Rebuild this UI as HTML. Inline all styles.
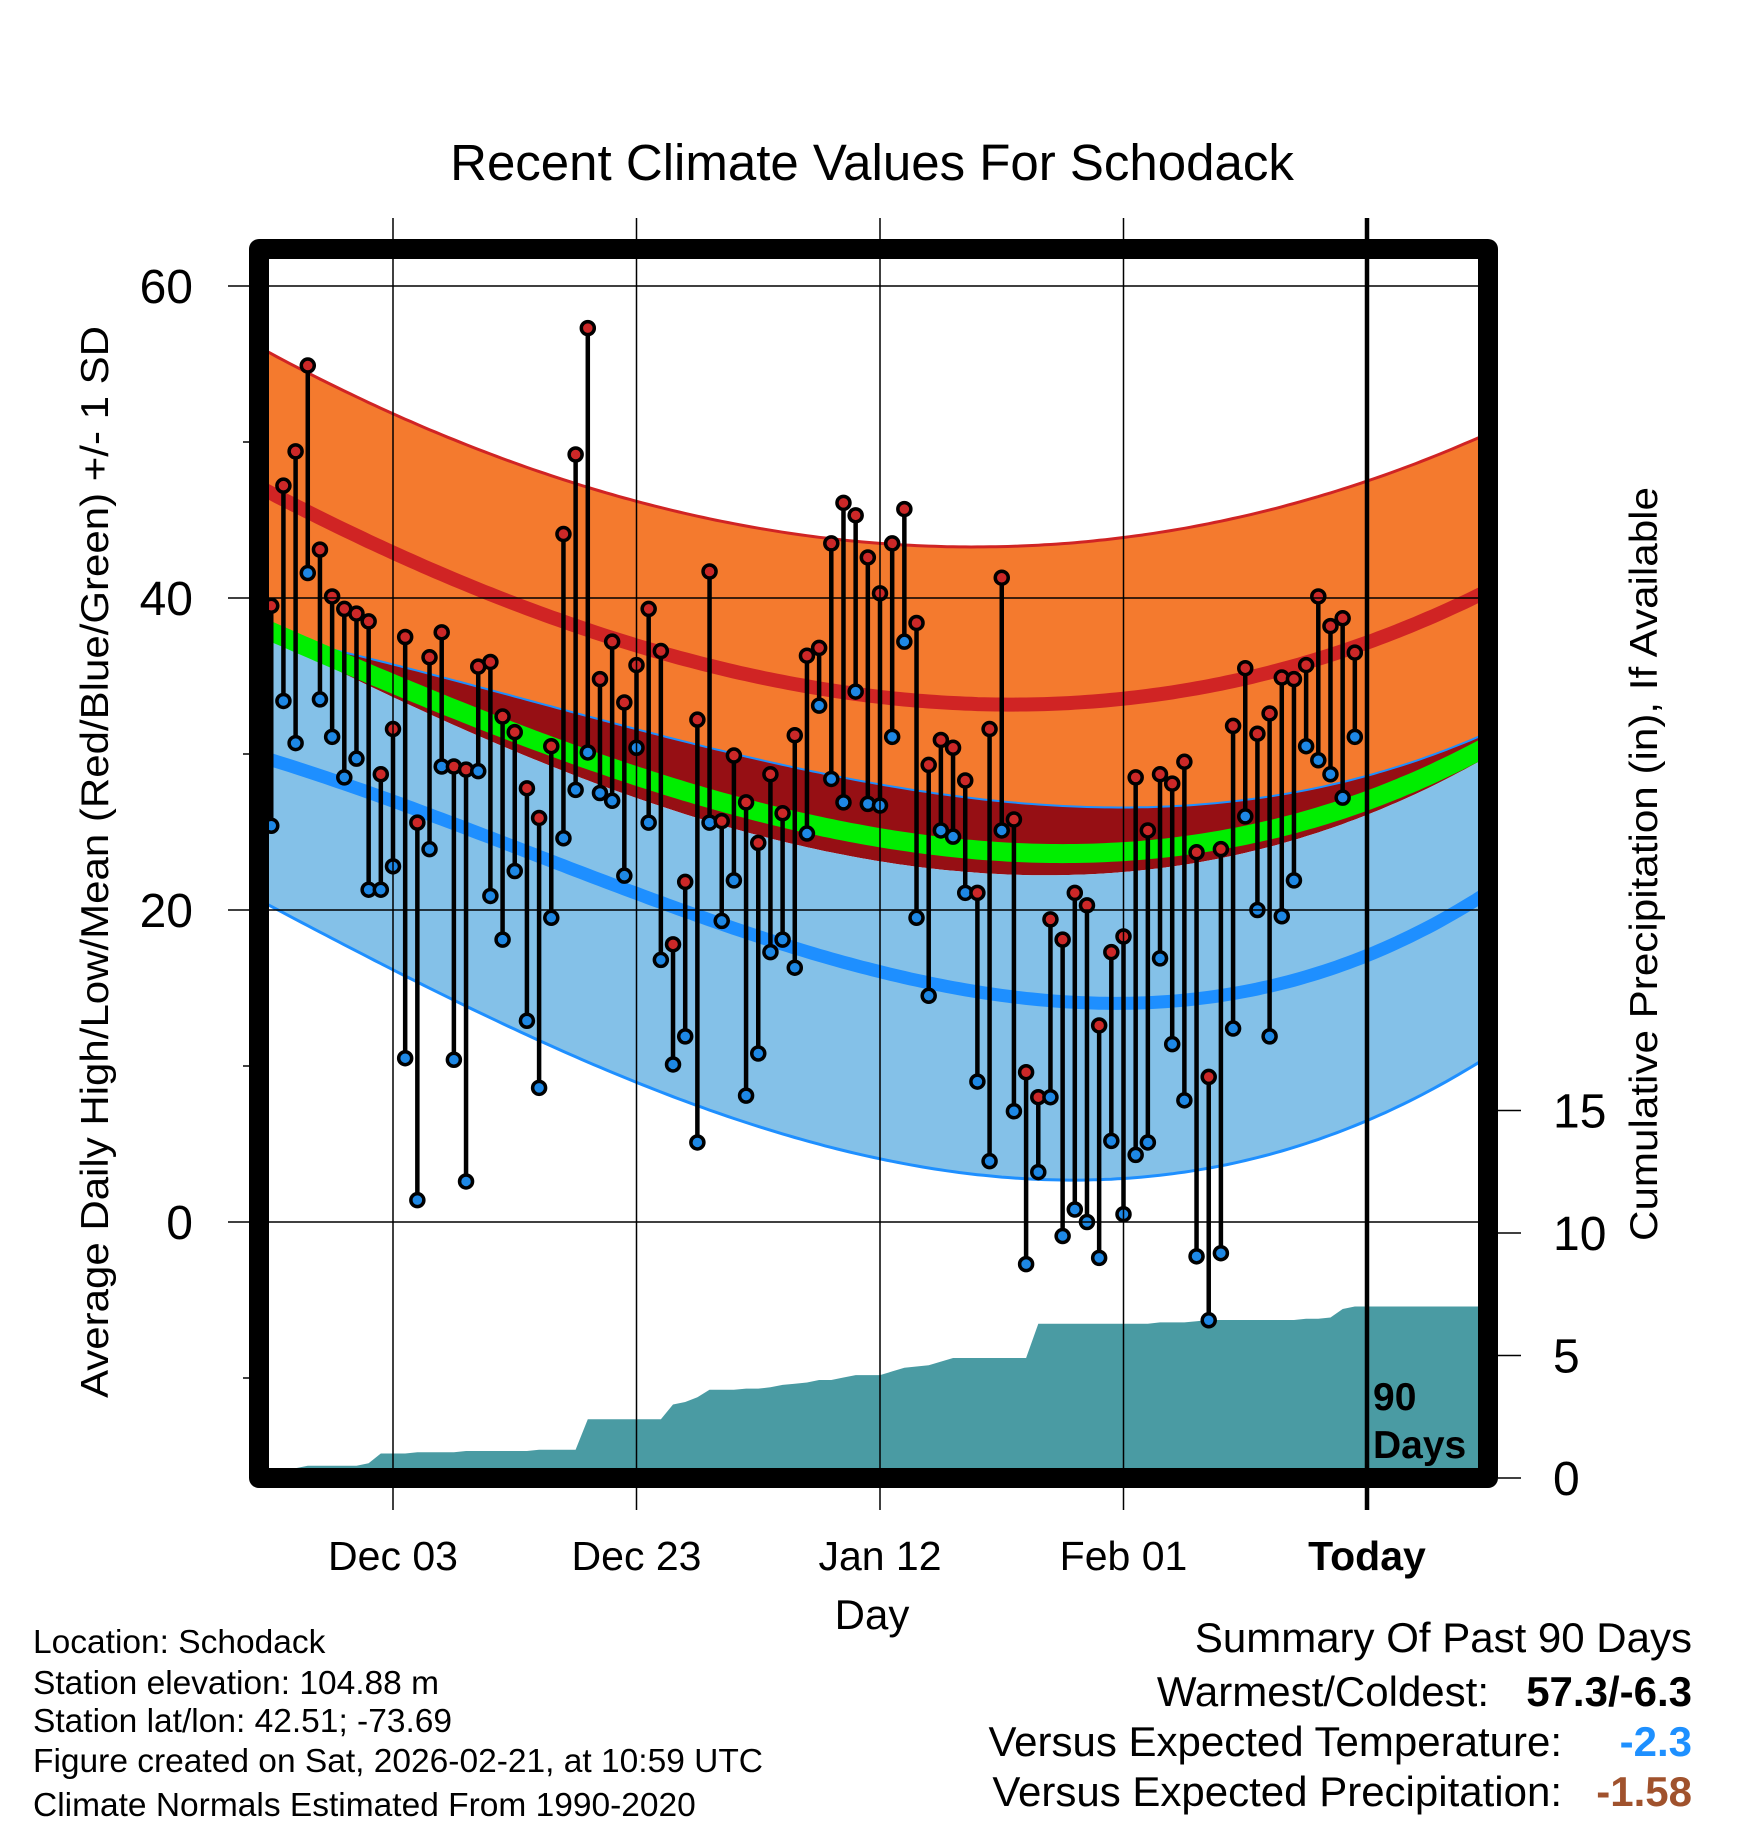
<!DOCTYPE html>
<html><head><meta charset="utf-8"><style>
html,body{margin:0;padding:0;background:#fff;}
svg{display:block;font-family:"Liberation Sans",Arial,sans-serif;}
</style></head><body>
<svg id="chart" width="1748" height="1828" viewBox="0 0 1748 1828" xmlns="http://www.w3.org/2000/svg">
<defs><clipPath id="plotclip"><rect x="269" y="259" width="1209" height="1209"/></clipPath></defs>
<text x="872" y="180" font-size="51" text-anchor="middle">Recent Climate Values For Schodack</text>
<g id="plot" clip-path="url(#plotclip)"></g>
<g id="over"></g>
<rect x="259" y="249" width="1229" height="1229" fill="none" stroke="#000" stroke-width="20" stroke-linejoin="round"/>
<g id="axes"></g>
<text transform="translate(108,862) rotate(-90)" font-size="39" text-anchor="middle" textLength="1072" lengthAdjust="spacingAndGlyphs">Average Daily High/Low/Mean (Red/Blue/Green) +/- 1 SD</text>
<text transform="translate(1657,864) rotate(-90)" font-size="39" text-anchor="middle" textLength="754" lengthAdjust="spacingAndGlyphs">Cumulative Precipitation (in), If Available</text>
<text x="872" y="1629" font-size="42" text-anchor="middle">Day</text>
<text x="1373" y="1410" font-size="39" font-weight="bold">90</text>
<text x="1373" y="1458" font-size="39" font-weight="bold">Days</text>
<g font-size="33.5">
<text x="33" y="1653">Location: Schodack</text>
<text x="33" y="1694">Station elevation: 104.88 m</text>
<text x="33" y="1732">Station lat/lon: 42.51; -73.69</text>
<text x="33" y="1772">Figure created on Sat, 2026-02-21, at 10:59 UTC</text>
<text x="33" y="1816">Climate Normals Estimated From 1990-2020</text>
</g>
<g font-size="42" text-anchor="end">
<text x="1692" y="1652">Summary Of Past 90 Days</text>
<text x="1489" y="1706">Warmest/Coldest:</text>
<text x="1692" y="1706" font-weight="bold">57.3/-6.3</text>
<text x="1562" y="1756">Versus Expected Temperature:</text>
<text x="1692" y="1756" font-weight="bold" fill="#1e90ff">-2.3</text>
<text x="1562" y="1806">Versus Expected Precipitation:</text>
<text x="1692" y="1806" font-weight="bold" fill="#a0522d">-1.58</text>
</g>
</svg>
<script>
// day offsets from Dec 03 (day 0)
const dayStart = -10;
const highs = [39.5,47.2,49.4,54.9,43.1,40.1,39.3,39.0,38.5,28.7,31.6,37.5,25.6,36.2,37.8,29.2,29.0,35.6,35.9,32.4,31.4,27.8,25.9,30.5,44.1,49.2,57.3,34.8,37.2,33.3,35.7,39.3,36.6,17.8,21.8,32.2,41.7,25.7,29.9,26.9,24.3,28.7,26.2,31.2,36.3,36.8,43.5,46.1,45.3,42.6,40.3,43.5,45.7,38.4,29.3,30.9,30.4,28.3,21.1,31.6,41.3,25.8,9.6,8.0,19.4,18.1,21.1,20.3,12.6,17.3,18.3,28.5,25.1,28.7,28.1,29.5,23.7,9.3,23.9,31.8,35.5,31.3,32.6,34.9,34.8,35.7,40.1,38.2,38.7,36.5];
const lows = [25.4,33.4,30.7,41.6,33.5,31.1,28.5,29.7,21.3,21.3,22.8,10.5,1.4,23.9,29.2,10.4,2.6,28.9,20.9,18.1,22.5,12.9,8.6,19.5,24.6,27.7,30.1,27.5,27.0,22.2,30.4,25.6,16.8,10.1,11.9,5.1,25.6,19.3,21.9,8.1,10.8,17.3,18.1,16.3,24.9,33.1,28.4,26.9,34.0,26.8,26.7,31.1,37.2,19.5,14.5,25.1,24.7,21.1,9.0,3.9,25.1,7.1,-2.7,3.2,8.0,-0.9,0.8,0.0,-2.3,5.2,0.5,4.3,5.1,16.9,11.4,7.8,-2.2,-6.3,-2.0,12.4,26.0,20.0,11.9,19.6,21.9,30.5,29.6,28.7,27.2,31.1];
const precip = [0.1,0.2,0.4,0.5,0.5,0.5,0.5,0.5,0.6,1.0,1.0,1.0,1.05,1.05,1.05,1.05,1.1,1.1,1.1,1.1,1.1,1.1,1.15,1.15,1.15,1.15,2.4,2.4,2.4,2.4,2.4,2.4,2.4,3.0,3.1,3.3,3.6,3.6,3.6,3.65,3.65,3.7,3.8,3.85,3.9,4.0,4.0,4.1,4.2,4.2,4.2,4.35,4.5,4.55,4.6,4.75,4.9,4.9,4.9,4.9,4.9,4.9,4.9,6.3,6.3,6.3,6.3,6.3,6.3,6.3,6.3,6.3,6.3,6.35,6.35,6.35,6.4,6.45,6.45,6.45,6.45,6.45,6.45,6.45,6.45,6.5,6.5,6.55,6.9,7.0];
// normals sampled at these days
const normDays = [-10,0,20,40,50,60,80,90];
const hiTop = [55.7,51.8,46.0,43.8,43.4,43.6,47.5,50.6];
const hiMean = [46.5,43.2,37.1,33.4,32.9,33.7,37.6,40.2];
const loTop = [37.6,35.7,31.6,28.3,26.8,26.3,29.0,31.2];
const hiBot = [37.0,34.3,27.5,22.2,21.9,23.2,26.5,29.5];
const meanT = [37.6,34.8,28.9,24.0,23.5,24.2,27.3,30.3];
const loMean = [29.3,27.4,21.3,15.7,14.0,14.3,17.8,20.7];
const loBot = [19.7,16.9,9.3,3.2,2.3,3.5,7.2,10.1];
const tempTicks = [60,40,20,0];
const minorTicks = [50,30,10,-10];
const precipTicks = [0,5,10,15];
const dateLabels = ["Dec 03","Dec 23","Jan 12","Feb 01","Today"];
const dateDays = [0,20,40,60,80];

const NS="http://www.w3.org/2000/svg";
const X = d => 393 + d*12.175;
const Y = t => 1222 - t*15.6;
const P = p => 1478 - p*24.5;
function mk(tag, attrs, parent){const e=document.createElementNS(NS,tag);for(const k in attrs)e.setAttribute(k,attrs[k]);parent.appendChild(e);return e;}
const plot=document.getElementById('plot'), axes=document.getElementById('axes');

// least-squares cubic fit through the sampled normals -> smooth curve
function fit(vals){
  const n=4, A=[...Array(n)].map(()=>Array(n+1).fill(0));
  normDays.forEach((d,i)=>{const u=(d-40)/50;const pw=[1,u,u*u,u*u*u];
    for(let r=0;r<n;r++){for(let c=0;c<n;c++)A[r][c]+=pw[r]*pw[c];A[r][n]+=pw[r]*vals[i];}});
  for(let i=0;i<n;i++){let m=i;for(let k=i+1;k<n;k++)if(Math.abs(A[k][i])>Math.abs(A[m][i]))m=k;[A[i],A[m]]=[A[m],A[i]];
    for(let k=0;k<n;k++){if(k===i)continue;const f=A[k][i]/A[i][i];for(let c=i;c<=n;c++)A[k][c]-=f*A[i][c];}}
  const co=A.map((r,i)=>r[n]/r[i]);
  return d=>{const u=(d-40)/50;return co[0]+co[1]*u+co[2]*u*u+co[3]*u*u*u;};
}
function smooth(vals){
  const f=fit(vals), pts=[];
  for(let d=-11;d<=91;d+=0.5)pts.push([X(d),Y(f(d))]);
  return pts;
}
const line = pts => pts.map((p,i)=>(i?'L':'M')+p[0].toFixed(1)+','+p[1].toFixed(1)).join('');
function band(a,b,fill,name){
  const pa=smooth(a),pb=smooth(b).reverse();
  const e=mk('path',{d:line(pa)+line(pb).replace('M','L')+'Z',fill:fill},plot);
  
  
}
function curve(a,color,w,name){
  const e=mk('path',{d:line(smooth(a)),fill:'none',stroke:color,'stroke-width':w},plot);
  
  
}
band(hiTop,loTop,'#f47a2e','high-sd-band');
band(loTop,hiBot,'#960f14','overlap-band');
band(hiBot,loBot,'#84c1e8','low-sd-band');
curve(hiTop,'#d02424',3,'high-plus-sd-line');
curve(loTop,'#1e8fff',2,'low-plus-sd-line');
curve(loBot,'#1e8fff',3,'low-minus-sd-line');
curve(meanT,'#00ee00',19,'normal-mean-line');
curve(hiMean,'#d02424',14,'normal-high-line');
curve(loMean,'#1e8fff',13,'normal-low-line');

// precipitation area
let pd='M'+X(dayStart)+','+P(0);
precip.forEach((v,i)=>{pd+='L'+X(dayStart+i).toFixed(1)+','+P(v).toFixed(1);});
pd+='L1480,'+P(precip[precip.length-1]).toFixed(1)+'L1480,'+P(0)+'Z';
const pa=mk('path',{d:pd,fill:'#4a9ba3'},plot);



// gridlines
tempTicks.forEach(t=>{
  const g=mk('line',{x1:228,x2:1478,y1:Y(t),y2:Y(t),stroke:'#000','stroke-width':1.5},axes);
  
  
  const l=mk('text',{x:193,y:Y(t)+17,'font-size':48,'text-anchor':'end'},axes);
  l.textContent=String(t);
  
  
});
minorTicks.forEach(t=>{
  const g=mk('line',{x1:243,x2:250,y1:Y(t),y2:Y(t),stroke:'#000','stroke-width':1.5},axes);
  
  
});
precipTicks.forEach(p=>{
  const g=mk('line',{x1:1498,x2:1521,y1:P(p),y2:P(p),stroke:'#000','stroke-width':1.5},axes);
  
  
  const l=mk('text',{x:1553,y:P(p)+17,'font-size':48},axes);
  l.textContent=String(p);
  
  
});
dateDays.forEach((d,i)=>{
  const today=i===dateDays.length-1;
  const g=mk('line',{x1:X(d),x2:X(d),y1:218,y2:1510,stroke:'#000','stroke-width':today?4.5:1.5},axes);
  
  
  const l=mk('text',{x:X(d),y:1570,'font-size':41,'text-anchor':'middle','font-weight':today?'bold':'normal'},axes);
  l.textContent=dateLabels[i];
  
  
});
// daily stems and markers
const over=document.getElementById('over');
highs.forEach((h,i)=>{
  const x=X(dayStart+i), lo=lows[i];
  const s=mk('line',{x1:x,x2:x,y1:Y(h),y2:Y(lo),stroke:'#000','stroke-width':4.5},over);
  
  
  const c1=mk('circle',{cx:x,cy:Y(lo),r:6.5,fill:'#1e88e5',stroke:'#000','stroke-width':3.5},over);
  
  
  const c2=mk('circle',{cx:x,cy:Y(h),r:6.5,fill:'#cc2828',stroke:'#000','stroke-width':3.5},over);
  
  
});
</script>
</body></html>
